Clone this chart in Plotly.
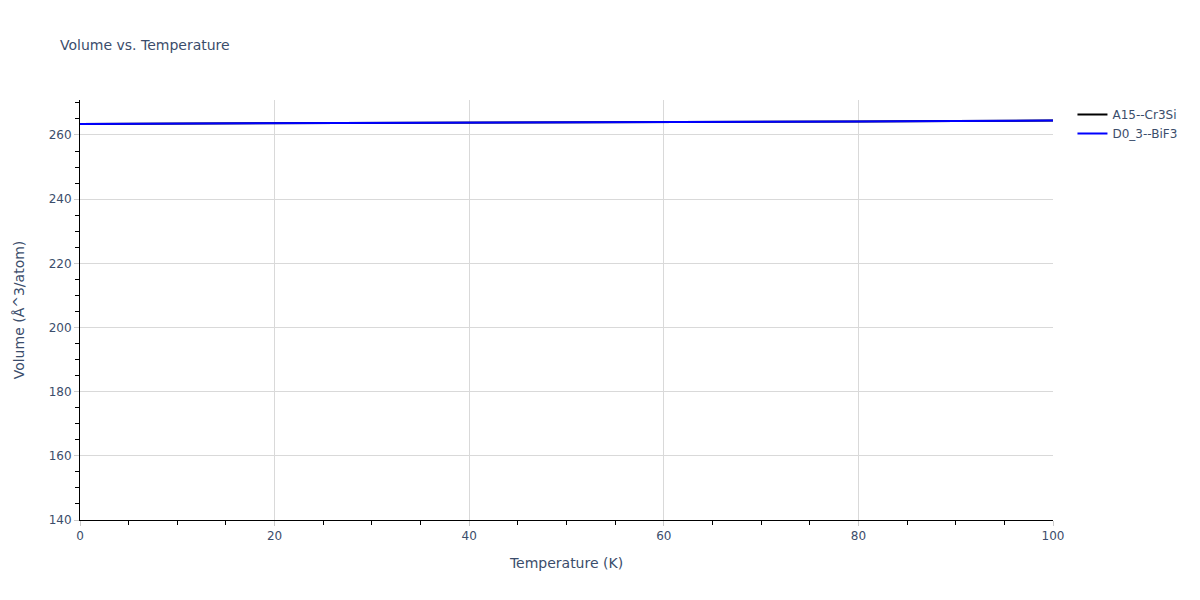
import plotly.graph_objects as go

temperature = [0, 10, 20, 30, 40, 50, 60, 70, 80, 90, 100]
volume_a15 = [263.45, 263.52, 263.6, 263.67, 263.75, 263.85, 263.95, 264.07, 264.2, 264.35, 264.5]
volume_d03 = [263.45, 263.52, 263.6, 263.67, 263.75, 263.85, 263.95, 264.07, 264.2, 264.35, 264.5]

fig = go.Figure()
fig.add_trace(go.Scatter(x=temperature, y=volume_a15, mode='lines',
                         name='A15--Cr3Si', line=dict(color='black', width=2)))
fig.add_trace(go.Scatter(x=temperature, y=volume_d03, mode='lines',
                         name='D0_3--BiF3', line=dict(color='blue', width=2)))

axis_style = dict(
    showline=True, linecolor='black', linewidth=1,
    ticks='outside', tickcolor='#cccccc', ticklen=5,
    showgrid=True, gridcolor='#d9d9d9', zeroline=False,
    minor=dict(ticks='outside', tickcolor='black', ticklen=4, dtick=5),
    automargin=False,
)

fig.update_layout(
    template='plotly_white',
    font=dict(family='DejaVu Sans, Verdana, sans-serif', size=12, color='#3b4d6b'),
    title=dict(text='Volume vs. Temperature', font=dict(size=14),
               x=0.0433, y=0.938, yanchor='middle'),
    width=1200, height=600,
    margin=dict(l=72, r=155, t=92, b=88),
    xaxis=dict(title='Temperature (K)', range=[0, 100], dtick=20, **axis_style),
    yaxis=dict(title=dict(text='Volume (Å^3/atom)', standoff=20),
               range=[140, 270.9], dtick=20, **axis_style),
    legend=dict(x=1.02, y=1),
)
fig.write_html("out.html")
